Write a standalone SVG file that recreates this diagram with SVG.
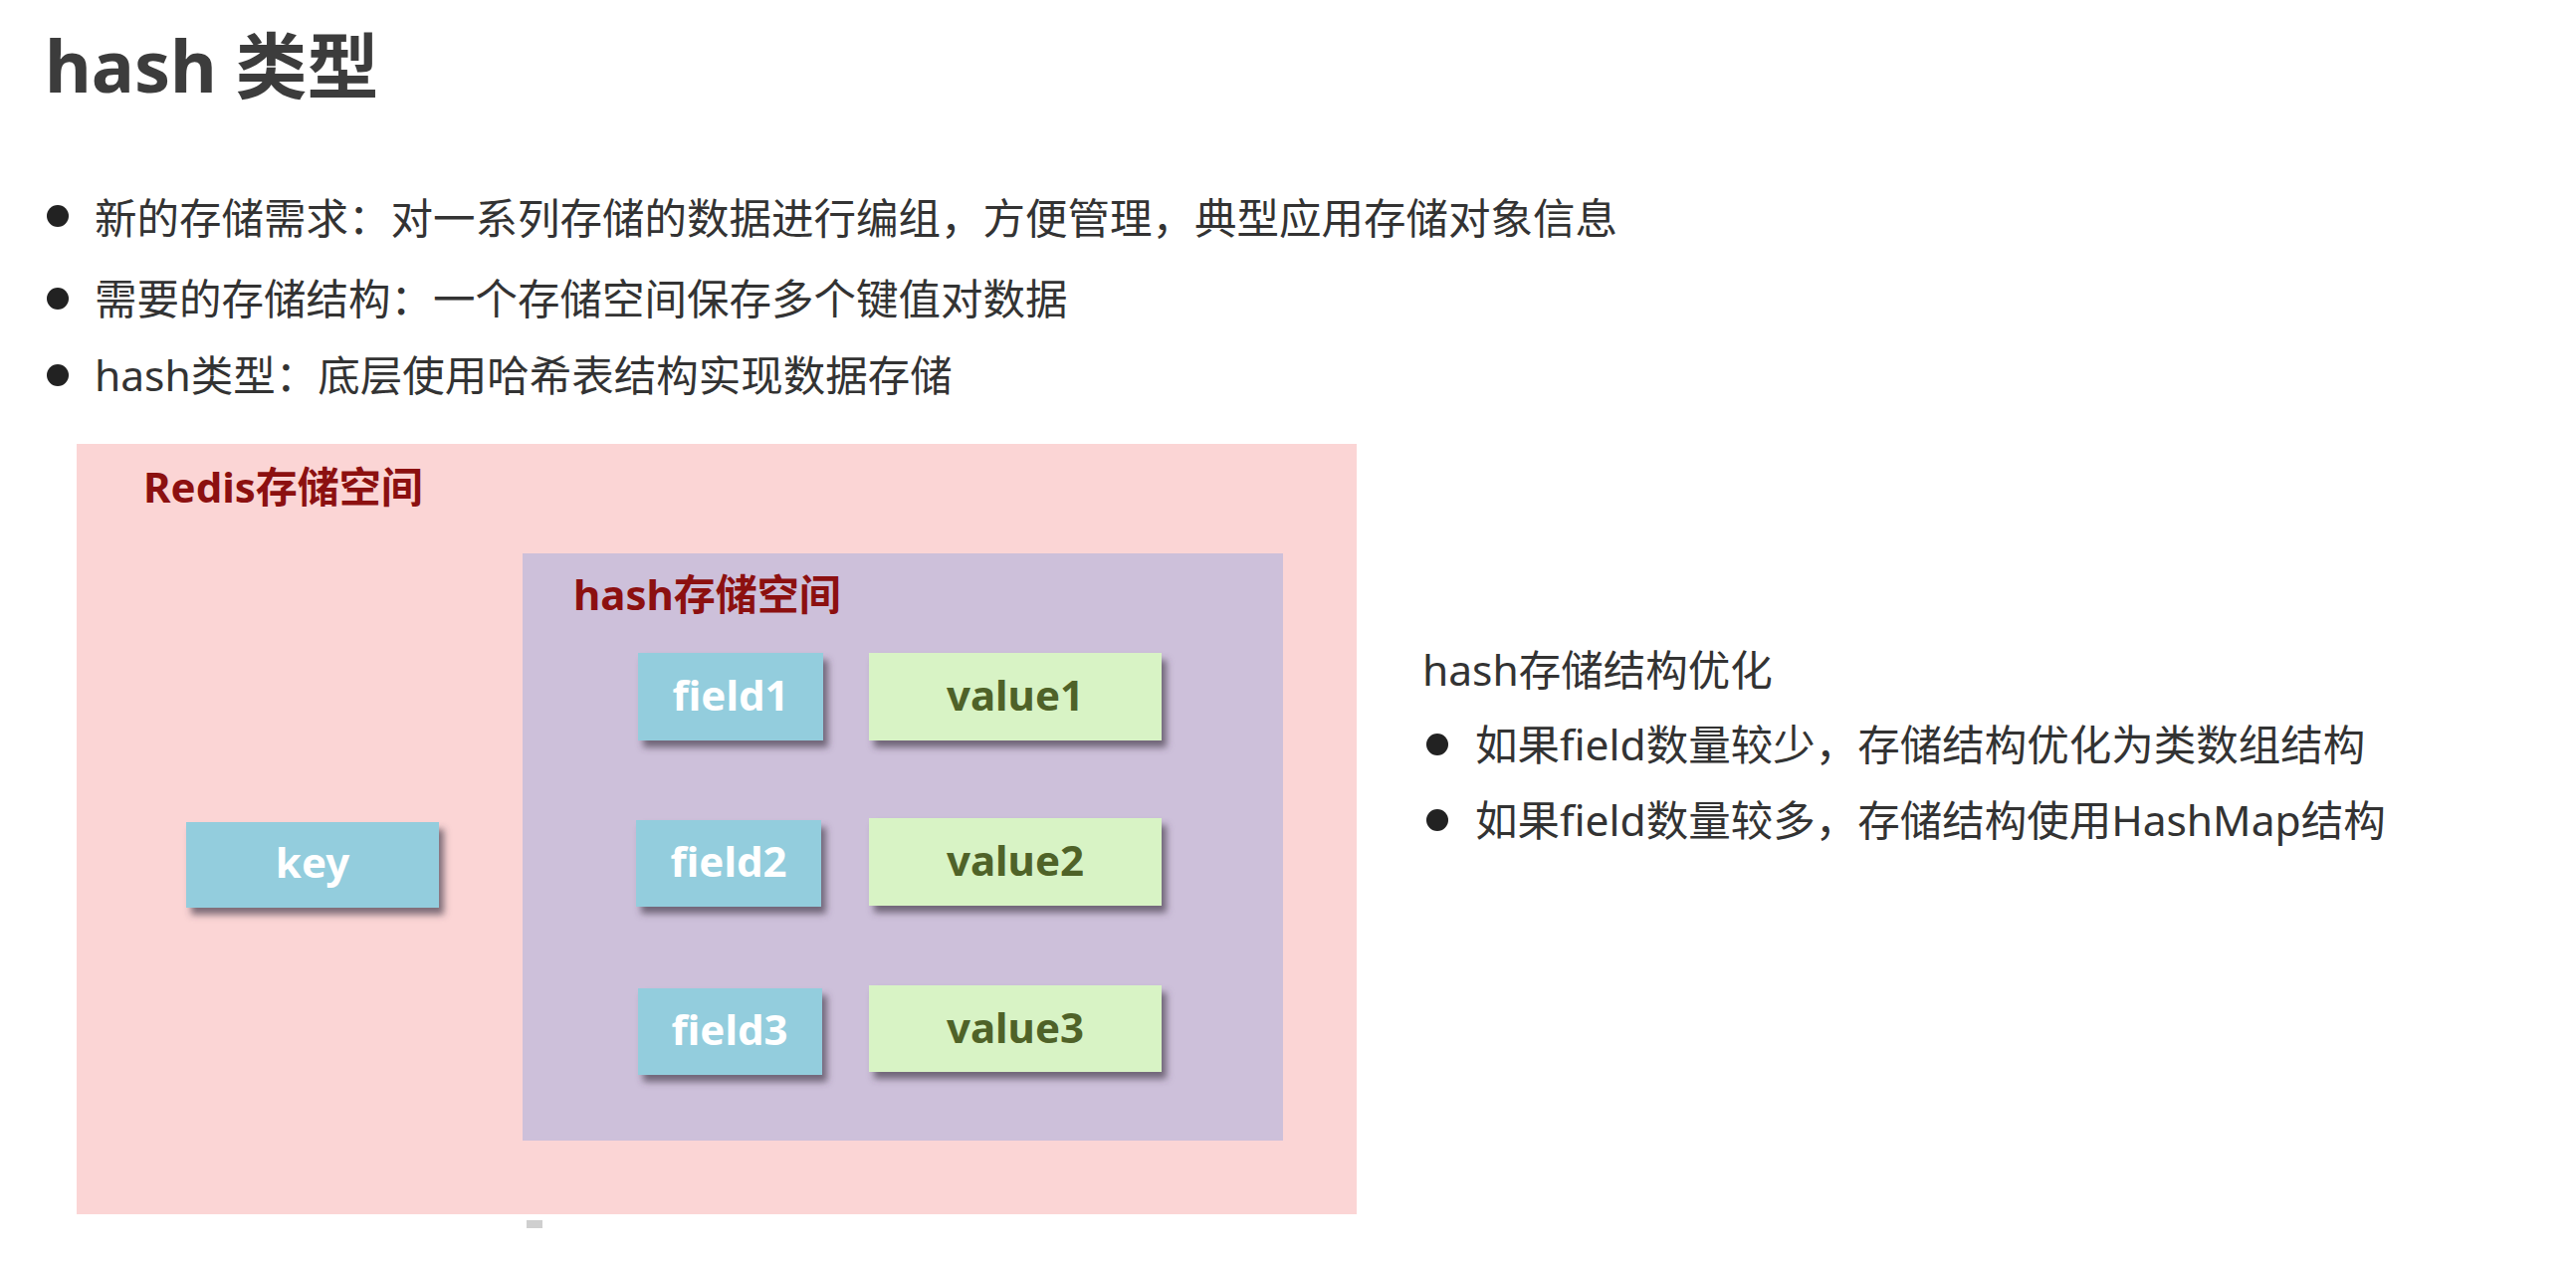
<svg xmlns="http://www.w3.org/2000/svg" width="2588" height="1269" viewBox="0 0 2588 1269">
  <style>
    .body { font-family: "Noto Sans", "Noto Sans CJK SC", sans-serif; font-size: 42.5px; fill: #333333; }
    .title { font-family: "Noto Sans", "Noto Sans CJK SC", sans-serif; font-size: 72px; font-weight: bold; fill: #3c3c3c; }
    .space-label { font-family: "Noto Sans", "Noto Sans CJK SC", sans-serif; font-size: 42px; font-weight: bold; fill: #8c1010; }
    .blue { fill: #93cddd; }
    .green { fill: #d8f3c5; }
    .lbl { font-family: "Noto Sans", "Noto Sans CJK SC", sans-serif; font-size: 42px; font-weight: bold; text-anchor: middle; }
    .lbl-white { fill: #ffffff; }
    .lbl-green { fill: #4f6228; }
    .dot { fill: #222222; }
  </style>
  <defs>
    <filter id="shadow" x="-10%" y="-10%" width="130%" height="140%">
      <feDropShadow dx="5" dy="7" stdDeviation="3.5" flood-color="#4a4050" flood-opacity="0.7"/>
    </filter>
  </defs>

  <rect x="0" y="0" width="2588" height="1269" fill="#ffffff"/>

  <g id="title">
    <text class="title" x="45" y="93">hash 类型</text>
  </g>

  <g id="bullets-left">
    <circle class="dot" cx="58" cy="217" r="11"/>
    <text class="body" x="95" y="235">新的存储需求：对一系列存储的数据进行编组，方便管理，典型应用存储对象信息</text>
    <circle class="dot" cx="58" cy="300" r="11"/>
    <text class="body" x="95" y="316">需要的存储结构：一个存储空间保存多个键值对数据</text>
    <circle class="dot" cx="58" cy="377" r="11"/>
    <text class="body" x="95" y="393">hash类型：底层使用哈希表结构实现数据存储</text>
  </g>

  <g id="redis-space">
    <rect x="77" y="446" width="1286" height="774" fill="#fbd5d5"/>
    <text class="space-label" x="144" y="505">Redis存储空间</text>
  </g>

  <g id="hash-space">
    <rect x="525" y="556" width="764" height="590" fill="#cdc0da"/>
    <text class="space-label" x="576" y="613">hash存储空间</text>
  </g>

  <g id="key">
    <rect class="blue" x="187" y="826" width="254" height="86" filter="url(#shadow)"/>
    <text class="lbl lbl-white" x="314" y="882">key</text>
  </g>

  <g id="field1">
    <rect class="blue" x="641" y="656" width="186" height="88" filter="url(#shadow)"/>
    <text class="lbl lbl-white" x="734" y="714">field1</text>
  </g>
  <g id="value1">
    <rect class="green" x="873" y="656" width="294" height="88" filter="url(#shadow)"/>
    <text class="lbl lbl-green" x="1020" y="714">value1</text>
  </g>

  <g id="field2">
    <rect class="blue" x="639" y="824" width="186" height="87" filter="url(#shadow)"/>
    <text class="lbl lbl-white" x="732" y="881">field2</text>
  </g>
  <g id="value2">
    <rect class="green" x="873" y="822" width="294" height="88" filter="url(#shadow)"/>
    <text class="lbl lbl-green" x="1020" y="880">value2</text>
  </g>

  <g id="field3">
    <rect class="blue" x="641" y="993" width="185" height="87" filter="url(#shadow)"/>
    <text class="lbl lbl-white" x="733" y="1050">field3</text>
  </g>
  <g id="value3">
    <rect class="green" x="873" y="990" width="294" height="87" filter="url(#shadow)"/>
    <text class="lbl lbl-green" x="1020" y="1048">value3</text>
  </g>

  <g id="connectors"></g>

  <g id="optimization-notes">
    <text class="body" x="1429" y="689">hash存储结构优化</text>
    <circle class="dot" cx="1444" cy="748" r="11"/>
    <text class="body" x="1482" y="764">如果field数量较少，存储结构优化为类数组结构</text>
    <circle class="dot" cx="1444" cy="824" r="11"/>
    <text class="body" x="1482" y="840">如果field数量较多，存储结构使用HashMap结构</text>
  </g>

  <g id="footer-fragment">
    <rect x="529" y="1226" width="16" height="8" fill="#cfcfcf"/>
  </g>
</svg>
